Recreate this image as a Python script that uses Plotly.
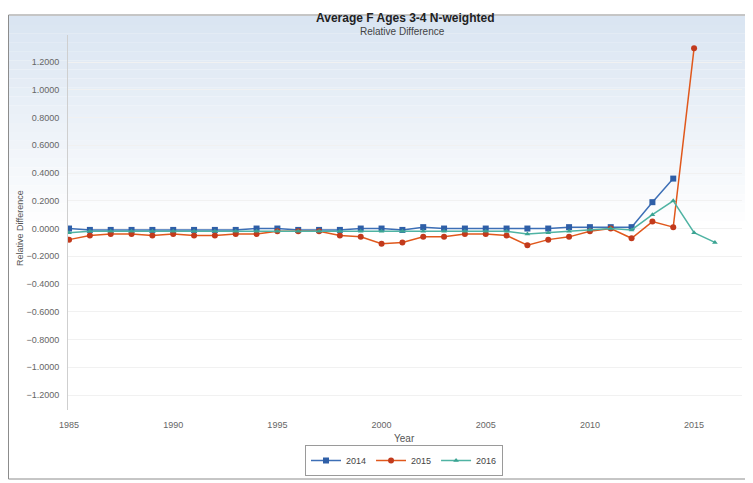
import plotly.graph_objects as go

years_2014 = list(range(1985, 2015))
rel_2014 = [0.00, -0.01, -0.01, -0.01, -0.01, -0.01, -0.01, -0.01, -0.01, 0.00,
            0.00, -0.01, -0.01, -0.01, 0.00, 0.00, -0.01, 0.01, 0.00, 0.00,
            0.00, 0.00, 0.00, 0.00, 0.01, 0.01, 0.01, 0.01, 0.19, 0.36]

years_2015 = list(range(1985, 2016))
rel_2015 = [-0.08, -0.05, -0.04, -0.04, -0.05, -0.04, -0.05, -0.05, -0.04, -0.04,
            -0.02, -0.02, -0.02, -0.05, -0.06, -0.11, -0.10, -0.06, -0.06, -0.04,
            -0.04, -0.05, -0.12, -0.08, -0.06, -0.02, 0.00, -0.07, 0.05, 0.01,
            1.30]

years_2016 = list(range(1985, 2017))
rel_2016 = [-0.03, -0.02, -0.02, -0.02, -0.02, -0.02, -0.02, -0.02, -0.02, -0.02,
            -0.02, -0.02, -0.02, -0.02, -0.02, -0.02, -0.02, -0.02, -0.02, -0.02,
            -0.02, -0.02, -0.04, -0.03, -0.02, -0.01, 0.00, -0.01, 0.10, 0.20,
            -0.03, -0.10]

y_ticks = [1.2, 1.0, 0.8, 0.6, 0.4, 0.2, 0.0, -0.2, -0.4, -0.6, -0.8, -1.0, -1.2]
x_ticks = [1985, 1990, 1995, 2000, 2005, 2010, 2015]

# page body has an 8px margin; work in screen pixels and shift
OFF = 8
W, H = 753 - OFF, 483 - OFF
L, R, T, B = 68 - OFF, 11, 35 - OFF, 73
PW, PH = W - L - R, H - T - B


def px_x(x):
    return (x - OFF - L) / PW


def px_y(y):
    return 1 - (y - OFF - T) / PH


fig = go.Figure()
fig.add_trace(go.Scatter(x=years_2014, y=rel_2014, name="2014", mode="lines+markers",
                         line=dict(color="#3d6fb6", width=1.5),
                         marker=dict(symbol="square", size=6, color="#2f5fa7")))
fig.add_trace(go.Scatter(x=years_2015, y=rel_2015, name="2015", mode="lines+markers",
                         line=dict(color="#e0581c", width=1.5),
                         marker=dict(symbol="circle", size=6, color="#c23a1c")))
fig.add_trace(go.Scatter(x=years_2016, y=rel_2016, name="2016", mode="lines+markers",
                         line=dict(color="#4fb3a3", width=1.5),
                         marker=dict(symbol="triangle-up", size=5, color="#3aa392")))

shapes = []
n = 24
top_px, bot_px = 16, 230
for i in range(n):
    y0 = top_px + (bot_px - top_px) * i / n
    y1 = top_px + (bot_px - top_px) * (i + 1) / n
    t = i / (n - 1)
    r = int(218 + (255 - 218) * t)
    g = int(229 + (255 - 229) * t)
    b = int(242 + (255 - 242) * t)
    shapes.append(dict(type="rect", xref="paper", yref="paper",
                       x0=px_x(9), x1=px_x(749), y0=px_y(y1), y1=px_y(y0),
                       fillcolor=f"rgb({r},{g},{b})", line=dict(width=0), layer="below"))
shapes.append(dict(type="rect", xref="paper", yref="paper",
                   x0=px_x(8.5), x1=px_x(749), y0=px_y(479), y1=px_y(15),
                   line=dict(color="#8c8c8c", width=1), fillcolor="rgba(0,0,0,0)", layer="above"))

fig.update_layout(
    width=W, height=H,
    margin=dict(l=L, r=R, t=T, b=B, autoexpand=False),
    paper_bgcolor="white",
    plot_bgcolor="rgba(0,0,0,0)",
    font=dict(family="Liberation Sans, Arial, sans-serif", size=9, color="#555"),
    shapes=shapes,
    showlegend=True,
    legend=dict(orientation="h", x=px_x(404), xanchor="center", y=px_y(476), yanchor="bottom",
                bordercolor="#9a9a9a", borderwidth=1, bgcolor="white",
                font=dict(size=9, color="#444"), itemwidth=30, tracegroupgap=0),
    annotations=[
        dict(text="<b>Average F Ages 3-4 N-weighted</b>", xref="paper", yref="paper",
             x=px_x(405), y=px_y(18), showarrow=False, xanchor="center", yanchor="middle",
             font=dict(size=12, color="#222")),
        dict(text="Relative Difference", xref="paper", yref="paper",
             x=px_x(402), y=px_y(32), showarrow=False, xanchor="center", yanchor="middle",
             font=dict(size=10, color="#444")),
        dict(text="Year", xref="paper", yref="paper",
             x=px_x(404), y=px_y(439), showarrow=False, xanchor="center", yanchor="middle",
             font=dict(size=10, color="#555")),
        dict(text="Relative Difference", xref="paper", yref="paper", textangle=-90,
             x=px_x(20), y=px_y(228), showarrow=False, xanchor="center", yanchor="middle",
             font=dict(size=9, color="#555")),
    ],
    xaxis=dict(range=[1984.95, 2017.3], tickvals=x_ticks, ticks="outside", ticklen=6,
               tickcolor="rgba(0,0,0,0)", showgrid=False, automargin=False,
               zeroline=False, showline=False,
               tickfont=dict(size=9, color="#666")),
    yaxis=dict(range=[-1.308, 1.395], tickvals=y_ticks, tickformat=".4f", automargin=False,
               showgrid=True, gridcolor="#f1f1f1", zeroline=False,
               showline=True, linecolor="#cfcfcf", linewidth=1, ticks="outside", ticklen=6,
               tickcolor="rgba(0,0,0,0)",
               tickfont=dict(size=9, color="#666")),
)

fig.write_html("out.html")
